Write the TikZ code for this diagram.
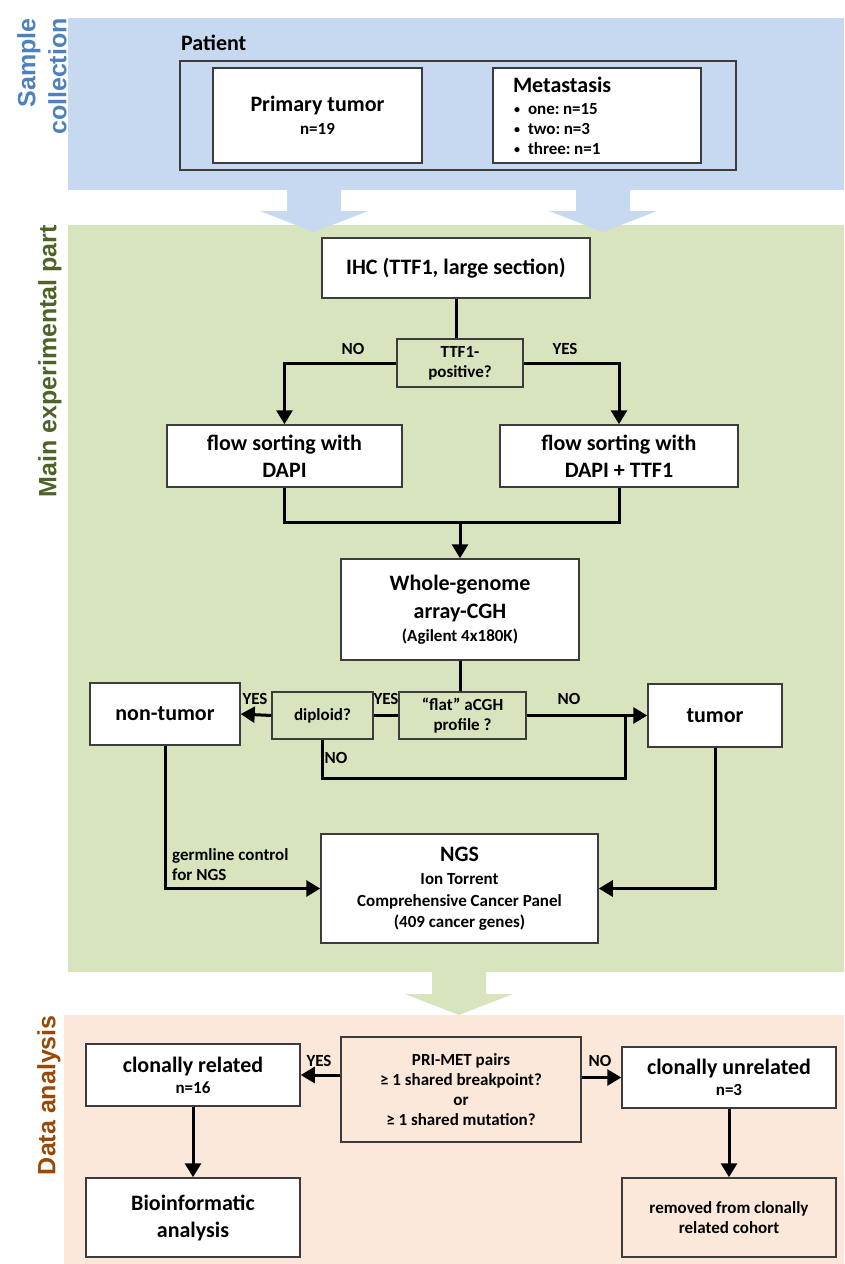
\documentclass[tikz,border=0pt]{standalone}
\usepackage{fontspec}
\setmainfont{Carlito}
\newfontfamily\labelfont{Liberation Sans}
\usetikzlibrary{arrows.meta}
\frenchspacing

\definecolor{sampleband}{RGB}{198,217,240}
\definecolor{mainband}{RGB}{215,228,189}
\definecolor{databand}{RGB}{252,232,218}
\definecolor{sampletext}{RGB}{79,129,189}
\definecolor{maintext}{RGB}{79,98,40}
\definecolor{datatext}{RGB}{152,72,7}
\definecolor{boxline}{RGB}{60,60,60}

\newcommand{\bigsz}{\fontsize{22}{27}\selectfont}
\newcommand{\smallsz}{\fontsize{17}{20}\selectfont}
\newcommand{\metabullet}{\makebox[15pt][l]{\hspace{1pt}\raisebox{1pt}{\fontsize{12}{12}\selectfont\textbullet}}}

\tikzset{
  box/.style={draw=boxline, line width=1.5pt, fill=white, align=center, inner sep=0pt, font=\bfseries\bigsz},
  decision/.style={box, font=\bfseries\smallsz},
  conn/.style={line width=3pt, line join=miter},
  arr/.style={conn, -{Triangle[length=14pt,width=16pt]}},
  answer/.style={font=\bfseries\smallsz, inner sep=0pt},
  sidelabel/.style={font={\labelfont\bfseries\fontsize{25}{31}\selectfont}, rotate=90, anchor=east, align=right, inner sep=0pt},
}

\begin{document}
\begin{tikzpicture}[x=1pt, y=-1pt]
  \useasboundingbox (0,0) rectangle (844,1264);

  % bands
  \fill[sampleband] (68,18) rectangle (844,190);
  \fill[mainband] (68,225) rectangle (844,972);
  \fill[databand] (64,1015) rectangle (844,1264);
  \foreach \x in {314,603}
    \fill[sampleband] (\x-27,189) -- (\x-27,211) -- (\x-54,211) -- (\x,232) -- (\x+54,211) -- (\x+27,211) -- (\x+27,189) -- cycle;
  \fill[mainband] (432,971) -- (432,994) -- (405,994) -- (459,1015) -- (513,994) -- (486,994) -- (486,971) -- cycle;

  \node[sidelabel, text=sampletext] (sample) at (42,18) {Sample\\collection};
  \node[sidelabel, text=maintext] (mainpart) at (50,225) {Main experimental part};
  \node[sidelabel, text=datatext] (dataana) at (49,1015) {Data analysis};

  % sample collection
  \node[anchor=base west, inner sep=0pt, font=\bfseries\bigsz] (patientlbl) at (181,50) {Patient};
  \node[draw=boxline, line width=1.5pt, minimum width=556, minimum height=109, inner sep=0pt] (patient) at (458,115.5) {};
  \node[box, minimum width=209, minimum height=95] (primary) at (317.5,115.5) {Primary tumor\\[-4pt]{\smallsz n=19}};
  \node[box, minimum width=208, minimum height=95, text width=168, align=left] (meta) at (597,115.5)
    {Metastasis\\[-5pt]
     {\smallsz\metabullet one:\hspace{3.5pt}n=15}\\[-7pt]
     {\smallsz\metabullet two:\hspace{3.5pt}n=3}\\[-7pt]
     {\smallsz\metabullet three:\hspace{3.5pt}n=1}};

  % main experimental part
  \node[box, minimum width=268, minimum height=60] (ihc) at (456,268) {IHC (TTF1, large section)};
  \node[decision, fill=mainband, minimum width=126, minimum height=48] (ttf) at (460,363) {TTF1-\\positive?};
  \node[box, minimum width=235, minimum height=62] (flowL) at (284.5,456) {flow sorting with\\DAPI};
  \node[box, minimum width=238, minimum height=62] (flowR) at (619,456) {flow sorting with\\DAPI + TTF1};
  \node[box, minimum width=238, minimum height=101] (wg) at (460,609.5) {Whole-genome\\[1pt]array-CGH\\[-4pt]{\smallsz (Agilent 4x180K)}};
  \node[decision, fill=mainband, minimum width=127, minimum height=47] (flat) at (462.5,715.5) {“flat” aCGH\\profile ?};
  \node[decision, fill=mainband, minimum width=101, minimum height=47] (diploid) at (322.5,715.5) {diploid?};
  \node[box, minimum width=150, minimum height=62] (nontumor) at (165,714) {non-tumor};
  \node[box, minimum width=134, minimum height=63] (tumor) at (715,715.5) {tumor};
  \node[box, minimum width=277, minimum height=109] (ngs) at (459.5,888.5)
    {NGS\\[-4pt]{\smallsz Ion Torrent}\\[-5pt]{\smallsz Comprehensive Cancer Panel}\\[-6pt]{\smallsz (409 cancer genes)}};

  \node[answer] (noA) at (353,349) {NO};
  \node[answer] (yesA) at (565,349) {YES};
  \node[answer] (yesB) at (255,699) {YES};
  \node[answer] (yesC) at (386,699) {YES};
  \node[answer] (noB) at (569,699) {NO};
  \node[answer] (noC) at (336,758) {NO};
  \node[answer, anchor=north west, align=left] (germ) at (172,848) {germline control\\for NGS};

  \coordinate (merge) at (460,522);
  \coordinate (loop) at (625,778);

  \draw[conn] (ihc.south) -- (ihc.south |- ttf.north);
  \draw[arr] (ttf.west) -| (flowL.north);
  \draw[arr] (ttf.east) -| (flowR.north);
  \draw[conn] (flowL.south) |- (merge) -| (flowR.south);
  \draw[arr] (merge) -- (merge |- wg.north);
  \draw[conn] (wg.south) -- (wg.south |- flat.north);
  \draw[conn] (flat.west) -- (diploid.east);
  \draw[arr] (diploid.west) -- (nontumor.east);
  \draw[arr] (flat.east) -- (tumor.west);
  \draw[conn] (diploid.south) |- (loop) -- (loop |- tumor.west);
  \draw[arr] (nontumor.south) |- (ngs.west);
  \draw[arr] (tumor.south) |- (ngs.east);

  % data analysis
  \node[decision, fill=databand, minimum width=240, minimum height=105] (primet) at (461,1089.5)
    {PRI-MET pairs\\≥ 1 shared breakpoint?\\or\\≥ 1 shared mutation?};
  \node[box, minimum width=214, minimum height=62] (related) at (193,1075) {clonally related\\[-6pt]{\smallsz n=16}};
  \node[box, minimum width=214, minimum height=61] (unrelated) at (729,1077.5) {clonally unrelated\\[-6pt]{\smallsz n=3}};
  \node[box, minimum width=214, minimum height=79] (bioinf) at (193,1217.5) {Bioinformatic\\analysis};
  \node[decision, fill=databand, minimum width=214, minimum height=79] (removed) at (729,1217.5) {removed from clonally\\related cohort};

  \node[answer] (yesD) at (319,1061) {YES};
  \node[answer] (noD) at (600,1061) {NO};

  \draw[arr] (primet.west |- related.east) -- (related.east);
  \draw[arr] (primet.east |- unrelated.west) -- (unrelated.west);
  \draw[arr] (related.south) -- (bioinf.north);
  \draw[arr] (unrelated.south) -- (removed.north);
\end{tikzpicture}
\end{document}
